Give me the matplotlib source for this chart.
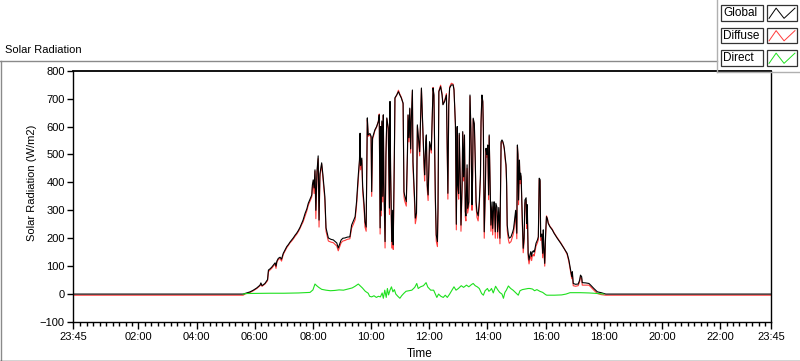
import matplotlib
matplotlib.use("Agg")
import matplotlib.pyplot as plt
from matplotlib.lines import Line2D
from matplotlib.patches import Rectangle
import numpy as np

plt.rcParams['font.family'] = ['Liberation Sans', 'DejaVu Sans']

# ---------------- data (time in hours of day; -0.25 = 23:45 previous day) ----------------
t_night1 = [-0.25, 5.60]
g_night1 = [0, 0]
d_night1 = [-4, -4]

t_05 = [5.66, 5.84, 5.95, 6.07, 6.18, 6.21, 6.25, 6.35, 6.44, 6.47, 6.52, 6.58, 6.64, 6.70, 6.73, 6.76, 6.81, 6.87, 6.92, 6.98]
g_05 = [2, 8, 14, 22, 32, 40, 30, 38, 52, 86, 90, 96, 104, 112, 100, 118, 128, 132, 125, 146]
d_05 = [0, 6, 12, 20, 30, 36, 28, 36, 48, 80, 86, 92, 100, 108, 92, 114, 124, 128, 118, 142]

t_07 = [7.04, 7.10, 7.16, 7.21, 7.27, 7.33, 7.38, 7.44, 7.50, 7.56, 7.61, 7.66, 7.73, 7.79, 7.84, 7.90, 7.96, 7.98]
g_07 = [158, 170, 178, 186, 194, 202, 210, 218, 228, 240, 253, 265, 289, 305, 325, 340, 355, 390]
d_07 = [154, 166, 175, 183, 190, 198, 206, 214, 224, 236, 248, 258, 280, 298, 318, 333, 348, 380]

t_08 = [8.01, 8.04, 8.07, 8.10, 8.14, 8.18, 8.21, 8.24, 8.30, 8.34, 8.41, 8.45, 8.53, 8.62, 8.70, 8.82, 8.87, 8.92, 8.97]
g_08 = [409, 380, 445, 300, 440, 495, 265, 430, 470, 430, 349, 237, 201, 196, 194, 183, 165, 180, 194]
d_08 = [400, 360, 440, 270, 430, 485, 240, 420, 465, 420, 335, 225, 190, 186, 184, 172, 155, 170, 184]

t_09 = [9.03, 9.10, 9.18, 9.27, 9.33, 9.39, 9.45, 9.50, 9.56, 9.60, 9.62, 9.64, 9.68, 9.71, 9.76, 9.79, 9.83, 9.87, 9.90, 9.96]
g_09 = [200, 201, 204, 205, 247, 262, 277, 331, 427, 480, 576, 460, 487, 385, 319, 259, 240, 631, 570, 575]
d_09 = [190, 192, 196, 198, 236, 250, 266, 318, 410, 470, 560, 445, 480, 370, 300, 240, 225, 625, 565, 570]

t_10 = [10.00, 10.02, 10.05, 10.08, 10.13, 10.19, 10.25, 10.28, 10.31, 10.33, 10.35, 10.37, 10.40, 10.42, 10.44,
        10.48, 10.51, 10.54, 10.59, 10.63, 10.65, 10.67, 10.71, 10.74, 10.76, 10.80, 10.82, 10.88, 10.94, 10.98]
g_10 = [565, 367, 560, 570, 588, 600, 618, 642, 237, 600, 300, 620, 350, 642, 400,
        188, 500, 631, 595, 308, 690, 450, 188, 300, 176, 500, 703, 713, 725, 715]
d_10 = [560, 350, 555, 565, 585, 598, 620, 645, 215, 595, 280, 615, 330, 640, 380,
        165, 490, 628, 590, 285, 685, 430, 165, 280, 160, 490, 700, 712, 730, 718]

t_11 = [11.04, 11.10, 11.13, 11.15, 11.21, 11.25, 11.27, 11.30, 11.33, 11.36, 11.38, 11.42, 11.44, 11.50,
        11.52, 11.56, 11.59, 11.64, 11.67, 11.71, 11.73, 11.76, 11.82, 11.84, 11.88, 11.90, 11.93, 11.96]
g_11 = [702, 684, 367, 355, 331, 510, 642, 560, 666, 520, 618, 731, 474, 331,
        272, 290, 606, 546, 510, 654, 738, 650, 474, 427, 546, 570, 391, 355]
d_11 = [705, 680, 350, 335, 315, 500, 640, 545, 662, 505, 612, 728, 455, 310,
        252, 275, 600, 535, 495, 650, 735, 640, 455, 405, 535, 565, 375, 335]

t_12 = [12.01, 12.07, 12.13, 12.16, 12.21, 12.24, 12.28, 12.30, 12.33, 12.39, 12.44, 12.47,
        12.53, 12.59, 12.64, 12.67, 12.70, 12.76, 12.82, 12.85, 12.90, 12.93, 12.96, 12.98]
g_12 = [546, 516, 738, 713, 343, 212, 188, 307, 725, 743, 713, 678,
        690, 713, 361, 678, 738, 749, 749, 731, 606, 250, 600, 391]
d_12 = [540, 505, 740, 710, 320, 190, 170, 290, 728, 748, 718, 680,
        695, 718, 340, 675, 742, 755, 752, 735, 600, 230, 595, 375]

t_13 = [13.01, 13.03, 13.07, 13.09, 13.13, 13.15, 13.18, 13.21, 13.24, 13.26, 13.30, 13.32, 13.36, 13.38, 13.40, 13.43, 13.47,
        13.49, 13.51, 13.55, 13.58, 13.61, 13.64, 13.68, 13.72, 13.76, 13.78, 13.81, 13.84, 13.86, 13.89, 13.93, 13.95, 13.98]
g_13 = [360, 576, 390, 247, 400, 582, 420, 570, 295, 280, 463, 307, 330, 474, 713, 594, 320,
        427, 630, 610, 487, 331, 295, 280, 330, 427, 618, 713, 690, 594, 223, 391, 522, 500]
d_13 = [340, 570, 372, 225, 385, 578, 405, 565, 275, 262, 450, 290, 315, 465, 708, 588, 300,
        412, 625, 605, 475, 312, 275, 262, 315, 415, 612, 710, 688, 585, 200, 375, 515, 490]

t_14 = [14.01, 14.04, 14.06, 14.10, 14.12, 14.16, 14.18, 14.22, 14.24, 14.27, 14.29, 14.33, 14.35, 14.39, 14.43, 14.47,
        14.50, 14.53, 14.56, 14.58, 14.61, 14.64, 14.66, 14.68, 14.72, 14.75, 14.81, 14.87, 14.90, 14.94, 14.97]
g_14 = [534, 355, 570, 355, 247, 330, 235, 330, 330, 223, 325, 310, 223, 310, 200, 546,
        552, 546, 534, 522, 490, 463, 400, 247, 212, 200, 205, 223, 235, 272, 300]
d_14 = [528, 338, 565, 338, 225, 312, 212, 315, 312, 200, 310, 292, 200, 292, 180, 540,
        548, 542, 530, 518, 482, 452, 385, 228, 195, 182, 188, 208, 220, 258, 285]

t_15 = [15.01, 15.03, 15.05, 15.07, 15.10, 15.12, 15.14, 15.16, 15.20, 15.23, 15.26, 15.29, 15.33, 15.35, 15.37, 15.40, 15.43, 15.46,
        15.49, 15.52, 15.54, 15.58, 15.60, 15.63, 15.67, 15.72, 15.75, 15.78, 15.81, 15.83, 15.87, 15.90, 15.92, 15.94, 15.97]
g_15 = [218, 534, 500, 337, 480, 410, 433, 420, 265, 164, 200, 337, 345, 253, 320, 146, 122, 140,
        152, 135, 150, 155, 150, 160, 182, 194, 205, 415, 410, 205, 215, 146, 230, 170, 110]
d_15 = [198, 528, 492, 320, 472, 395, 425, 408, 248, 148, 185, 325, 335, 235, 305, 130, 108, 125,
        138, 120, 136, 142, 136, 148, 172, 184, 195, 410, 405, 192, 202, 130, 218, 155, 100]

t_16 = [16.00, 16.03, 16.06, 16.09, 16.15, 16.23, 16.29, 16.40, 16.52, 16.63, 16.74, 16.80, 16.84, 16.86, 16.90,
        16.92, 16.95, 17.03, 17.12, 17.17, 17.20, 17.24, 17.26, 17.38, 17.49, 17.55, 17.66, 17.78, 17.91]
g_16 = [215, 277, 270, 253, 241, 230, 218, 200, 182, 164, 146, 122, 98, 85, 62,
        80, 38, 35, 36, 50, 68, 62, 41, 40, 38, 32, 20, 8, 5]
d_16 = [205, 280, 272, 256, 243, 232, 220, 202, 184, 165, 142, 116, 92, 78, 55,
        72, 30, 28, 30, 44, 62, 55, 32, 32, 32, 26, 14, 2, -2]

t_night2 = [18.07, 23.75]
g_night2 = [0, 0]
d_night2 = [-4, -4]

direct_t = [5.60, 5.70, 6.5, 7.0, 7.5, 7.9, 8.00, 8.07, 8.13, 8.20, 8.30, 8.45, 8.60, 8.75, 8.90, 9.05, 9.20, 9.35, 9.45,
            9.56, 9.62, 9.70, 9.80, 9.90, 9.95, 10.02, 10.10, 10.18, 10.25, 10.32, 10.38, 10.42, 10.47, 10.52, 10.56,
            10.60, 10.65, 10.70, 10.75, 10.80, 10.85, 10.92, 10.99, 11.05, 11.12, 11.20, 11.30, 11.40, 11.50, 11.57,
            11.62, 11.70, 11.80, 11.89, 11.95, 12.05, 12.15, 12.26, 12.32, 12.40, 12.48, 12.55, 12.62, 12.70, 12.78,
            12.85, 12.92, 13.00, 13.10, 13.18, 13.28, 13.36, 13.45, 13.51, 13.58, 13.65, 13.72, 13.80, 13.86, 13.92,
            14.00, 14.05, 14.10, 14.14, 14.20, 14.28, 14.35, 14.42, 14.50, 14.55, 14.60, 14.65, 14.72, 14.80, 14.88,
            14.96, 15.06, 15.12, 15.20, 15.30, 15.40, 15.46, 15.55, 15.62, 15.70, 15.80, 15.90, 16.00, 16.04, 16.30,
            16.55, 16.70, 16.84, 17.20, 17.50, 17.80, 18.00]
direct_v = [0, 2, 3, 3, 4, 6, 15, 36, 30, 24, 17, 14, 12, 13, 15, 14, 18, 22, 28,
            36, 30, 22, 10, 3, -8, -10, -6, -12, -8, -10, 4, -15, 14, -12, 20,
            -3, 14, 26, 8, 16, 0, -8, -15, -6, 2, 10, 12, 14, 24, 38,
            20, 26, 30, 41, 25, 14, 14, -12, 0, -8, -12, -4, -12, 0, 14,
            26, 14, 20, 30, 24, 32, 26, 34, 38, 30, 26, 20, 2, -4, 12,
            20, 10, 14, 20, 4, 28, 16, 6, 0, -15, 6, 14, 29, 20, 14,
            6, -4, 12, 16, 18, 20, 20, 18, 12, 16, 10, 6, -2, -4, -4,
            -3, 0, 5, 5, 4, 2, 0]

major_ticks = [-0.25, 2, 4, 6, 8, 10, 12, 14, 16, 18, 20, 22, 23.75]
major_labels = ["23:45", "02:00", "04:00", "06:00", "08:00", "10:00", "12:00",
                "14:00", "16:00", "18:00", "20:00", "22:00", "23:45"]
y_ticks = [-100, 0, 100, 200, 300, 400, 500, 600, 700, 800]

series_names = ["Global", "Diffuse", "Direct"]
series_colors = ["#000000", "#ff3b3b", "#1ee01e"]

times = t_night1 + t_05 + t_07 + t_08 + t_09 + t_10 + t_11 + t_12 + t_13 + t_14 + t_15 + t_16 + t_night2
global_vals = g_night1 + g_05 + g_07 + g_08 + g_09 + g_10 + g_11 + g_12 + g_13 + g_14 + g_15 + g_16 + g_night2
diffuse_vals = d_night1 + d_05 + d_07 + d_08 + d_09 + d_10 + d_11 + d_12 + d_13 + d_14 + d_15 + d_16 + d_night2

# ---------------- figure ----------------
W, H = 800, 361
fig = plt.figure(figsize=(W / 100, H / 100), dpi=100)
fig.patch.set_facecolor("white")

def fx(px):
    return px / W

def fy(py):
    return 1 - py / H

ax = fig.add_axes([fx(73), fy(322), fx(771) - fx(73), fy(70.7) - fy(322)])
ax.set_xlim(-0.25, 23.75)
ax.set_ylim(-100, 800)

ax.plot(times, diffuse_vals, color=series_colors[1], lw=0.8, zorder=2)
ax.plot(times, global_vals, color=series_colors[0], lw=0.8, zorder=3)
ax.plot(direct_t, direct_v, color=series_colors[2], lw=0.8, zorder=4)

ax.set_xticks(major_ticks)
ax.set_xticklabels(major_labels)
minor = [2 + k * 2 / 9 for k in range(-10, 99)]
minor = [m for m in minor if -0.25 < m < 23.75 and all(abs(m - M) > 0.05 for M in major_ticks)]
ax.set_xticks(minor, minor=True)
ax.set_yticks(y_ticks)

ax.tick_params(axis="both", which="major", direction="out", length=4, width=1, pad=2,
               labelsize=8, colors="black")
ax.tick_params(axis="x", which="minor", direction="out", length=3, width=1)
ax.tick_params(axis="x", which="major", length=5)

for s in ax.spines.values():
    s.set_color("black")
    s.set_linewidth(1.0)
ax.spines["top"].set_linewidth(1.3)

# titles / labels
fig.text(fx(5), fy(50), "Solar Radiation", fontsize=8, ha="left", va="center")
fig.text(fx(32), fy(183), "Solar Radiation (W/m2)", fontsize=8, rotation=90, ha="center", va="center")
fig.text(fx(420), fy(354), "Time", fontsize=8.5, ha="center", va="center")

# panel frame lines
gray = "#8a8a8a"
fig.add_artist(Line2D([fx(0), fx(716.5)], [fy(61), fy(61)], color=gray, lw=1.0))
fig.add_artist(Line2D([fx(0.5), fx(0.5)], [fy(61), fy(361)], color=gray, lw=1.0))
fig.add_artist(Line2D([fx(0), fx(800)], [fy(360.5), fy(360.5)], color="#222222", lw=1.0))

# legend panel
fig.add_artist(Line2D([fx(716.5), fx(716.5)], [fy(0), fy(71.5)], color="#b0b0b0", lw=1.0))
fig.add_artist(Line2D([fx(716.5), fx(800)], [fy(71.5), fy(71.5)], color="#b0b0b0", lw=1.0))
row_tops = [5, 27.5, 50]
row_h = 15.7
for name, col, top in zip(series_names, series_colors, row_tops):
    fig.add_artist(Rectangle((fx(720.7), fy(top + row_h)), fx(763.3) - fx(720.7), fy(top) - fy(top + row_h),
                             facecolor="white", edgecolor="#333333", lw=0.9))
    fig.text(fx(723), fy(top + row_h / 2 + 0.5), name, fontsize=8.5, ha="left", va="center")
    x0, x1 = 767.3, 796.7
    fig.add_artist(Rectangle((fx(x0), fy(top + row_h)), fx(x1) - fx(x0), fy(top) - fy(top + row_h),
                             facecolor="white", edgecolor="#333333", lw=0.9))
    xs = [0.06, 0.30, 0.57, 0.94]
    ys = [0.15, 0.80, 0.15, 0.80]
    fig.add_artist(Line2D([fx(x0 + f * (x1 - x0)) for f in xs],
                          [fy(top + row_h) + v * (fy(top) - fy(top + row_h)) for v in ys],
                          color=col, lw=0.7))

fig.savefig("out.png", dpi=100)
